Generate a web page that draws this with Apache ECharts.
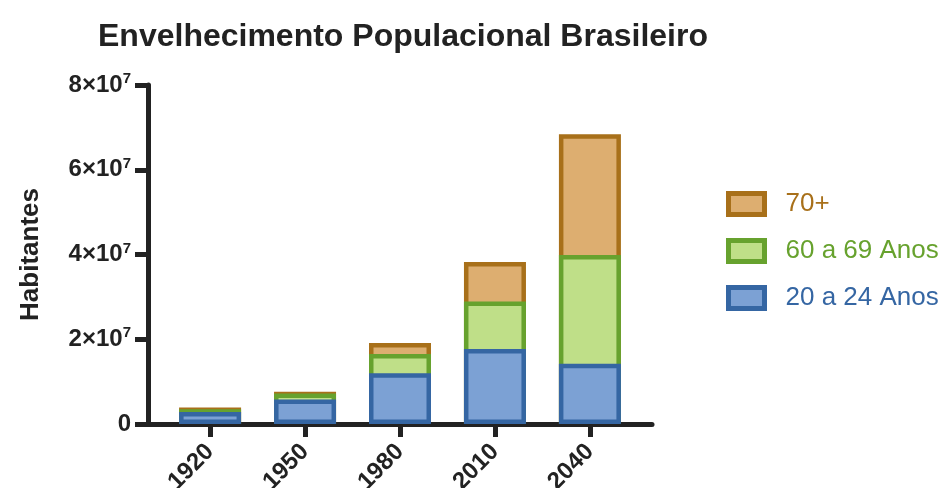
<!DOCTYPE html>
<html>
<head>
<meta charset="utf-8">
<script src="https://cdn.jsdelivr.net/npm/echarts@6/dist/echarts.min.js"></script>
<style>
  html, body { margin: 0; padding: 0; background: #fff; }
  #chart { width: 947px; height: 488px; }
</style>
</head>
<body>
<div id="chart"></div>
<script>
// Population by age group (inhabitants), per census / projection year
const years = ['1920', '1950', '1980', '2010', '2040'];
const pop20a24 = [2.85e6, 5.8e6, 1.20e7, 1.77e7, 1.42e7];
const pop60a69 = [0.65e6, 1.4e6, 4.5e6, 1.12e7, 2.57e7];
const pop70mais = [0.4e6, 0.4e6, 2.6e6, 9.35e6, 2.845e7];
const yMax = 8e7;
const yStep = 2e7;

const FONT = '"Liberation Sans", Arial, Helvetica, sans-serif';
const AXIS = '#222222';

// Segments are drawn as overlapping columns rising from zero, each reaching
// the running total of its group, so the lower group's outline sits on top.
function runningTotal(...parts) {
  return years.map((_, i) => parts.reduce((s, p) => s + p[i], 0));
}

const groups = [
  { name: '20 a 24 Anos', top: runningTotal(pop20a24),                     line: '#3566a3', fill: '#7ca1d4', z: 4 },
  { name: '60 a 69 Anos', top: runningTotal(pop20a24, pop60a69),           line: '#67a22e', fill: '#bfdf88', z: 3 },
  { name: '70+',          top: runningTotal(pop20a24, pop60a69, pop70mais), line: '#a8701a', fill: '#ddae70', z: 2 }
];

const series = groups.map(g => ({
  name: g.name,
  type: 'bar',
  xAxisIndex: 0,
  yAxisIndex: 0,
  z: g.z,
  barWidth: 62,
  barGap: '-100%',
  data: g.top,
  itemStyle: { color: g.fill, borderColor: g.line, borderWidth: 4.5 },
  emphasis: { disabled: true }
}));

function yLabel(v) {
  if (v === 0) return '0';
  return (v / 1e7) + '×10{sup|7}';
}

const chart = echarts.init(document.getElementById('chart'), null, { renderer: 'canvas' });
chart.setOption({
  animation: false,
  backgroundColor: '#ffffff',
  title: {
    text: 'Envelhecimento Populacional Brasileiro',
    left: 93,
    top: 16,
    textStyle: { fontFamily: FONT, fontSize: 32, fontWeight: 'bold', color: '#222' }
  },
  legend: {
    orient: 'vertical',
    left: 721,
    top: 186,
    itemWidth: 36,
    itemHeight: 21,
    itemGap: 21,
    textStyle: { fontFamily: FONT, fontSize: 26, padding: [0, 0, 0, 16], lineHeight: 26 },
    data: groups.slice().reverse().map(g => ({
      name: g.name,
      icon: 'rect',
      itemStyle: { color: g.fill, borderColor: g.line, borderWidth: 5 },
      textStyle: { color: g.line }
    }))
  },
  grid: [
    // plotting band for the bars (category centres)
    { left: 162.6, right: 309.6, top: 85, bottom: 64, containLabel: false, outerBoundsMode: 'none' },
    // frame carrying the axis lines and the value scale
    { left: 148, right: 295, top: 85, bottom: 64, containLabel: false, outerBoundsMode: 'none' }
  ],
  xAxis: [
    {
      type: 'category',
      gridIndex: 0,
      data: years,
      axisLine: { show: false },
      axisTick: { show: true, alignWithLabel: true, length: 13, lineStyle: { color: AXIS, width: 5 } },
      axisLabel: {
        rotate: 45,
        margin: 24,
        fontFamily: FONT, fontSize: 24, fontWeight: 'bold', color: '#222'
      }
    },
    {
      type: 'value',
      gridIndex: 1,
      min: 0,
      max: 1,
      axisLine: { show: true, lineStyle: { color: AXIS, width: 5 } },
      axisTick: { show: false },
      axisLabel: { show: false },
      splitLine: { show: false }
    }
  ],
  yAxis: [
    {
      type: 'value',
      gridIndex: 0,
      min: 0,
      max: yMax,
      interval: yStep,
      show: false,
      splitLine: { show: false }
    },
    {
      type: 'value',
      gridIndex: 1,
      min: 0,
      max: yMax,
      interval: yStep,
      name: 'Habitantes',
      nameLocation: 'middle',
      nameGap: 104,
      nameRotate: 90,
      nameTextStyle: { fontFamily: FONT, fontSize: 26, fontWeight: 'bold', color: '#222' },
      splitLine: { show: false },
      axisLine: { show: true, lineStyle: { color: AXIS, width: 5 } },
      axisTick: { show: true, length: 13, lineStyle: { color: AXIS, width: 5 } },
      axisLabel: {
        margin: 17,
        formatter: yLabel,
        fontFamily: FONT, fontSize: 24, fontWeight: 'bold', color: '#222',
        rich: {
          sup: { fontFamily: FONT, fontSize: 15, fontWeight: 'bold', color: '#222', verticalAlign: 'top', padding: [0, 0, 12, 0] }
        }
      }
    }
  ],
  series: series
});
</script>
</body>
</html>
